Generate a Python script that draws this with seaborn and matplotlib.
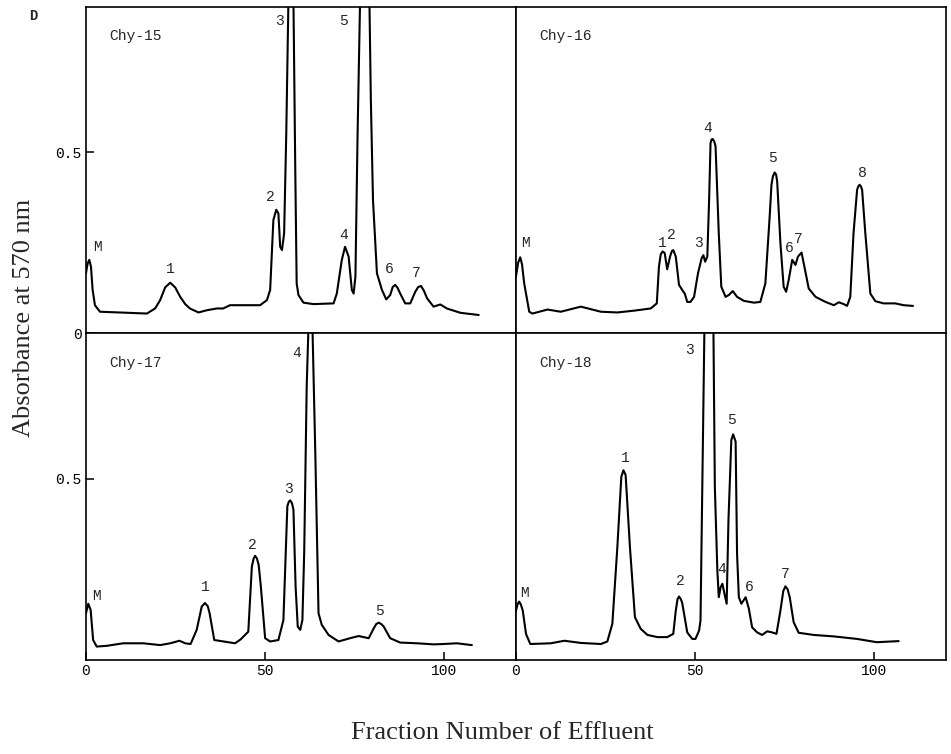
import matplotlib
matplotlib.use("Agg")
import matplotlib.pyplot as plt
import seaborn as sns
import pandas as pd

# ---------------- data ----------------
panel_titles = ["Chy-15", "Chy-16", "Chy-17", "Chy-18"]

chy15_x = [0, 0.47, 0.93, 1.4, 1.86, 2.5, 3.9, 17, 19.3, 20.7, 22.1, 23.5, 24.9, 26.3, 27.7, 29.0,
           31.4, 33.7, 36.5, 38.3, 40.2, 48.6, 50.5, 51.4,
           52.3, 53.1, 53.7, 54.2, 54.7, 55.3, 55.9, 56.5, 57.2, 57.9, 58.4, 58.8, 59.3, 60.7, 63.5,
           69.1, 70.0, 71.4, 72.3, 73.3, 74.2, 74.7, 75.2, 75.8, 76.5, 77.8, 79.1, 79.5, 80.1, 81.2,
           82.6, 83.8, 84.9, 85.6, 86.3, 87.0, 87.7, 89.1, 90.5, 91.9, 92.7, 93.5, 94.3, 95.2, 97.0,
           98.9, 100.7, 104.5, 109.6]
chy15_y = [0.166, 0.193, 0.203, 0.184, 0.120, 0.078, 0.060, 0.055, 0.069, 0.092, 0.127, 0.140,
           0.127, 0.101, 0.081, 0.069, 0.058, 0.064, 0.069, 0.069,
           0.078, 0.078, 0.092, 0.120, 0.313, 0.341, 0.331, 0.239, 0.230, 0.276, 0.552, 0.92, 1.05,
           0.92, 0.46, 0.138, 0.106, 0.085, 0.081, 0.083, 0.110, 0.203, 0.239, 0.212, 0.120, 0.110,
           0.157, 0.550, 0.92, 1.10, 0.92, 0.645, 0.368, 0.166, 0.120, 0.094, 0.106, 0.128, 0.134,
           0.125, 0.110, 0.083, 0.083, 0.115, 0.128, 0.131, 0.118, 0.097, 0.074, 0.080, 0.069,
           0.057, 0.051]
chy15_lbl = ["M", "1", "2", "3", "4", "5", "6", "7"]
chy15_lbl_x = [3.3, 23.6, 51.6, 54.0, 71.9, 71.9, 84.5, 92.2]
chy15_lbl_y = [0.239, 0.177, 0.375, 0.861, 0.272, 0.861, 0.177, 0.168]

chy16_x = [0, 0.6, 1.2, 1.7, 2.3, 3.7, 4.6, 8.8, 12.5, 18.1, 23.7, 28.3, 33.0, 37.6, 39.3, 39.9,
           40.4, 40.9, 41.5, 42.2, 43.0, 43.5, 43.9, 44.6, 45.5, 46.4, 47.1, 47.8, 48.7, 49.7, 50.8,
           51.8, 52.3, 52.8, 53.4, 53.9, 54.3, 54.6, 54.9, 55.3, 55.7, 56.6, 57.3, 58.5, 59.4, 60.5,
           61.7, 63.6, 66.4, 68.2, 69.6, 70.8, 71.3, 71.7, 72.2, 72.6, 72.9, 73.8, 74.7, 75.4, 76.1,
           77.1, 78.0, 78.7, 79.7, 80.5, 81.7, 83.6, 86.4, 88.7, 90.1, 91.5, 92.4, 93.3, 94.2, 95.2,
           95.6, 95.9, 96.3, 96.6, 97.5, 98.9, 100.3, 102.6, 105.8, 108.2, 110.8]
chy16_y = [0.157, 0.195, 0.210, 0.190, 0.138, 0.060, 0.055, 0.066, 0.060, 0.074, 0.060, 0.058,
           0.063, 0.069, 0.083, 0.184, 0.218, 0.226, 0.222, 0.177, 0.212, 0.227, 0.230, 0.212,
           0.134, 0.120, 0.110, 0.087, 0.087, 0.101, 0.166, 0.207, 0.216, 0.198, 0.212, 0.368,
           0.525, 0.535, 0.536, 0.530, 0.516, 0.276, 0.129, 0.101, 0.106, 0.117, 0.101, 0.090,
           0.085, 0.087, 0.138, 0.322, 0.410, 0.433, 0.444, 0.438, 0.419, 0.249, 0.129, 0.115,
           0.147, 0.203, 0.189, 0.212, 0.223, 0.184, 0.124, 0.101, 0.087, 0.078, 0.086, 0.081,
           0.076, 0.101, 0.276, 0.396, 0.407, 0.410, 0.405, 0.396, 0.276, 0.110, 0.089, 0.083,
           0.083, 0.078, 0.076]
chy16_lbl = ["M", "1", "2", "3", "4", "5", "6", "7", "8"]
chy16_lbl_x = [2.8, 40.8, 43.5, 51.0, 53.6, 71.5, 76.3, 78.9, 96.6]
chy16_lbl_y = [0.249, 0.249, 0.272, 0.249, 0.566, 0.483, 0.235, 0.260, 0.442]

chy17_x = [0, 0.65, 1.3, 2.0, 3.0, 5.8, 10.4, 16.0, 20.7, 23.5, 26.1, 27.7, 29.2, 30.9, 32.3, 33.2,
           34.0, 34.5, 35.8, 38.4, 41.6, 43.2, 45.3, 46.3, 46.8, 47.2, 47.7, 48.2, 48.8, 50.0, 51.4,
           53.7, 55.1, 56.2, 56.6, 57.0, 57.5, 57.9, 58.5, 59.1, 59.8, 60.4, 60.9, 61.6, 62.1, 62.6,
           63.2, 64.0, 64.9, 65.8, 67.7, 70.5, 73.7, 76.1, 78.9, 80.3, 81.0, 81.7, 82.4, 83.1, 84.9,
           87.7, 92.4, 97.0, 99.8, 103.5, 107.7]
chy17_y = [0.129, 0.155, 0.138, 0.055, 0.037, 0.039, 0.046, 0.046, 0.041, 0.046, 0.053, 0.046,
           0.044, 0.083, 0.147, 0.157, 0.148, 0.129, 0.055, 0.051, 0.046, 0.057, 0.078, 0.258,
           0.280, 0.287, 0.280, 0.262, 0.203, 0.060, 0.051, 0.055, 0.110, 0.424, 0.436, 0.440,
           0.432, 0.414, 0.203, 0.092, 0.083, 0.110, 0.295, 0.755, 0.92, 1.10, 0.92, 0.571, 0.129,
           0.097, 0.069, 0.051, 0.060, 0.066, 0.060, 0.087, 0.099, 0.103, 0.099, 0.092, 0.060,
           0.048, 0.046, 0.043, 0.044, 0.046, 0.041]
chy17_lbl = ["M", "1", "2", "3", "4", "5"]
chy17_lbl_x = [3.0, 33.4, 46.3, 56.5, 58.8, 81.8]
chy17_lbl_y = [0.177, 0.200, 0.316, 0.470, 0.847, 0.135]

chy18_x = [0, 0.5, 0.9, 1.4, 1.9, 2.8, 4.0, 9.7, 13.5, 18.1, 23.7, 25.5, 26.9, 28.3, 29.4, 30.0,
           30.6, 31.8, 33.2, 34.8, 36.7, 39.5, 42.2, 43.9, 44.6, 45.1, 45.5, 46.0, 46.4, 47.8, 49.2,
           50.1, 51.1, 51.5, 52.0, 52.6, 53.8, 55.1, 55.5, 56.2, 56.6, 57.1, 57.6, 58.2, 58.8, 59.3,
           60.1, 60.6, 61.3, 61.7, 62.2, 62.9, 64.1, 65.0, 65.9, 67.3, 68.7, 70.1, 71.5, 72.7, 73.8,
           74.6, 75.2, 75.8, 76.4, 77.5, 78.9, 83.1, 88.7, 95.2, 100.7, 106.8]
chy18_y = [0.136, 0.155, 0.161, 0.152, 0.136, 0.072, 0.044, 0.046, 0.053, 0.047, 0.044, 0.051,
           0.100, 0.312, 0.505, 0.523, 0.510, 0.312, 0.118, 0.086, 0.069, 0.063, 0.063, 0.072,
           0.136, 0.168, 0.175, 0.168, 0.157, 0.076, 0.058, 0.058, 0.081, 0.109, 0.477, 0.92,
           1.10, 0.92, 0.477, 0.247, 0.173, 0.200, 0.210, 0.182, 0.155, 0.385, 0.606, 0.622,
           0.602, 0.293, 0.173, 0.155, 0.173, 0.141, 0.090, 0.076, 0.069, 0.079, 0.076, 0.072,
           0.136, 0.190, 0.203, 0.195, 0.173, 0.104, 0.075, 0.069, 0.065, 0.058, 0.049, 0.052]
chy18_lbl = ["M", "1", "2", "3", "4", "5", "6", "7"]
chy18_lbl_x = [2.5, 30.5, 45.8, 48.3, 57.3, 60.1, 65.0, 75.2]
chy18_lbl_y = [0.184, 0.556, 0.217, 0.855, 0.252, 0.662, 0.200, 0.238]

x_ticks = [0, 50, 100]
x_tick_labels = ["0", "50", "100"]
y_label = "Absorbance at 570 nm"
x_label = "Fraction Number of Effluent"
corner_tag = "D"

# ---------------- drawing ----------------
sns.set_style("white")
plt.rcParams["font.family"] = ["Liberation Mono", "DejaVu Sans Mono"]

mono = ["Liberation Mono", "DejaVu Sans Mono"]
serif = ["Liberation Serif", "DejaVu Serif"]

fig, axes = plt.subplots(2, 2, figsize=(9.51, 7.54), dpi=100)
fig.subplots_adjust(left=0.0904, right=0.9947, top=0.9907, bottom=0.1247,
                    wspace=0, hspace=0)

panels = [
    (chy15_x, chy15_y, chy15_lbl, chy15_lbl_x, chy15_lbl_y),
    (chy16_x, chy16_y, chy16_lbl, chy16_lbl_x, chy16_lbl_y),
    (chy17_x, chy17_y, chy17_lbl, chy17_lbl_x, chy17_lbl_y),
    (chy18_x, chy18_y, chy18_lbl, chy18_lbl_x, chy18_lbl_y),
]

for i, (ax, (xs, ys, lbls, lx, ly)) in enumerate(zip(axes.flat, panels)):
    df = pd.DataFrame({"fraction": xs, "absorbance": ys})
    sns.lineplot(data=df, x="fraction", y="absorbance", ax=ax, sort=False,
                 estimator=None, color="black", linewidth=1.5,
                 solid_joinstyle="round", solid_capstyle="round")
    ax.set_xlim(0, 120)
    ax.set_ylim(0, 0.9)
    ax.set_xlabel("")
    ax.set_ylabel("")
    for sp in ax.spines.values():
        sp.set_color("black")
        sp.set_linewidth(1.2)
        sp.set_visible(True)
    for t, tx, ty in zip(lbls, lx, ly):
        ax.text(tx, ty, t, ha="center", va="center", fontsize=10.5, family=mono)
    ax.text(6.5, 0.82, panel_titles[i], ha="left", va="center", fontsize=10.5,
            family=mono)

    row, col = divmod(i, 2)
    if row == 1:
        ax.set_xticks(x_ticks)
        ax.set_xticklabels(x_tick_labels, family=mono, fontsize=10.5)
        ax.tick_params(axis="x", direction="in", length=6, width=1.1, pad=3,
                       bottom=True, colors="black")
    else:
        ax.set_xticks([])
    if col == 0:
        if row == 0:
            ax.set_yticks([0, 0.5])
            ax.set_yticklabels(["0", "0.5"], family=mono, fontsize=10.5)
        else:
            ax.set_yticks([0.5])
            ax.set_yticklabels(["0.5"], family=mono, fontsize=10.5)
        ax.tick_params(axis="y", direction="in", length=6, width=1.1, pad=3,
                       left=True, colors="black")
    else:
        ax.set_yticks([])

fig.text(0.025, 0.578, y_label, rotation=90, ha="center", va="center",
         fontsize=19, family=serif)
fig.text(0.528, 0.028, x_label, ha="center", va="center", fontsize=19,
         family=serif)
fig.text(0.035, 0.979, corner_tag, ha="center", va="center", fontsize=10,
         family=mono, fontweight="bold")

fig.savefig("out.png", dpi=100, facecolor="white")
